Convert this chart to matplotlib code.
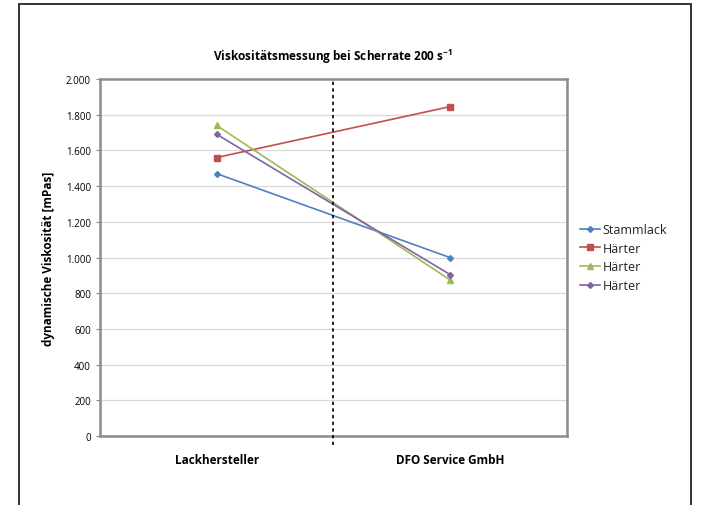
import numpy as np
import matplotlib.pyplot as plt
from matplotlib.ticker import FuncFormatter
from matplotlib.patches import Rectangle

plt.rcParams['font.family'] = ['Open Sans', 'DejaVu Sans']

# data
categories = ['Lackhersteller', 'DFO Service GmbH']
series_names = ['Stammlack', 'Härter', 'Härter', 'Härter']
stammlack = [1470, 1000]
haerter_rot = [1560, 1845]
haerter_gruen = [1740, 875]
haerter_lila = [1690, 905]

colors = ['#4F81BD', '#C0504D', '#9BBB59', '#8064A2']
markers = ['D', 's', '^', 'D']
sizes = [3, 5, 4, 3]

fig = plt.figure(figsize=(7.04, 5.06), dpi=100)
# outer frame (bottom edge cut off like in the original)
fig.patches.append(Rectangle((0.027, -0.05), 0.955, 1.04, transform=fig.transFigure,
                             fill=False, edgecolor='#333333', linewidth=1.4))
ax = fig.add_axes([0.142, 0.136, 0.663, 0.706])

x = np.arange(len(categories))
for vals, name, c, m, s in zip([stammlack, haerter_rot, haerter_gruen, haerter_lila],
                               series_names, colors, markers, sizes):
    ax.plot(x, vals, color=c, marker=m, markersize=s, linewidth=1.2, label=name)

ax.set_xlim(-0.5, 1.5)
ax.set_ylim(0, 2000)
ax.set_yticks(np.arange(0, 2001, 200))
ax.yaxis.set_major_formatter(FuncFormatter(lambda v, p: f'{int(v):,}'.replace(',', '.')))
ax.set_xticks(x)
ax.set_xticklabels(categories, fontsize=8.5, fontweight='bold')
ax.tick_params(axis='y', labelsize=7, length=3, color='#888888')
ax.tick_params(axis='x', length=0, pad=12)
ax.grid(axis='y', color='#d9d9d9', linewidth=0.9)
ax.set_axisbelow(True)
for sp in ax.spines.values():
    sp.set_color('#8c8c8c')
    sp.set_linewidth(1.8)

# dashed separator
ax.plot([0.5, 0.5], [-0.025, 1.0], transform=ax.get_xaxis_transform(), color='black',
        linestyle=(0, (2, 2)), linewidth=1.2, clip_on=False, zorder=5)

ax.set_ylabel('dynamische Viskosität [mPas]', fontsize=8.5, fontweight='bold', labelpad=8)
ax.set_title('Viskositätsmessung bei Scherrate 200 s$^{\\mathregular{-1}}$', fontsize=8.5,
             fontweight='bold', pad=14)

leg = ax.legend(loc='center left', bbox_to_anchor=(1.005, 0.5), frameon=False, fontsize=9,
                handlelength=1.6, handletextpad=0.2, labelspacing=0.45)
for t in leg.get_texts():
    t.set_color('#222222')

fig.savefig('out.png', dpi=100)
